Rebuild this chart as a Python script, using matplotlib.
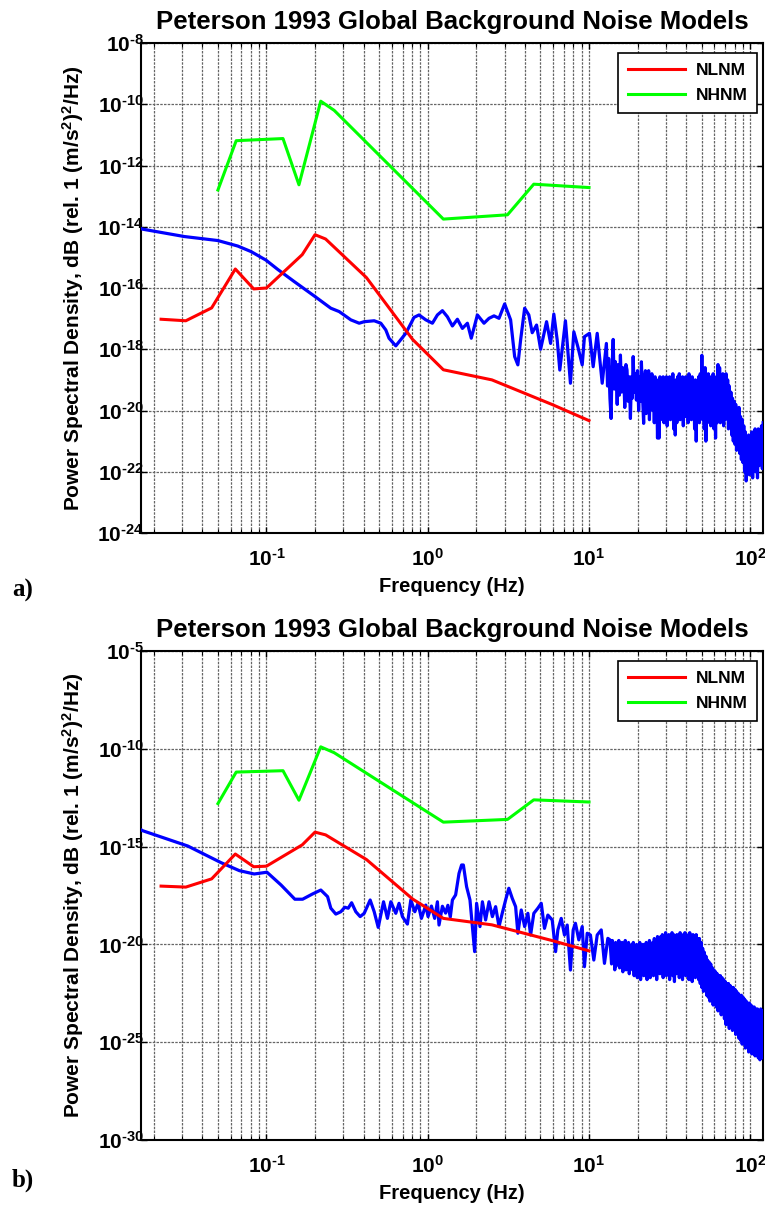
import numpy as np
import matplotlib
matplotlib.use('Agg')
import matplotlib.pyplot as plt
from matplotlib.ticker import FixedLocator, NullLocator, NullFormatter, LogLocator

plt.rcParams['font.family'] = ['Liberation Sans', 'DejaVu Sans']
plt.rcParams['font.weight'] = 'bold'
plt.rcParams['mathtext.fontset'] = 'custom'
plt.rcParams['mathtext.rm'] = 'Liberation Sans:bold'
plt.rcParams['mathtext.it'] = 'Liberation Sans:bold'
plt.rcParams['mathtext.bf'] = 'Liberation Sans:bold'
plt.rcParams['mathtext.default'] = 'rm'

# ---------------- data ----------------
title_text = 'Peterson 1993 Global Background Noise Models'
xlabel_text = 'Frequency (Hz)'
ylabel_text = r'Power Spectral Density, dB (rel. 1 (m/s$^2$)$^2$/Hz)'
panel_labels = ['a)', 'b)']

# Peterson New Low Noise Model (frequency Hz, log10 PSD)
nlnm_freq = [0.0222, 0.0316, 0.0457, 0.0641, 0.0833, 0.1, 0.1667, 0.2, 0.2326,
             0.4167, 0.806, 1.25, 2.5, 5.88, 10.0]
nlnm_log_psd = [-17.02, -17.07, -16.65, -15.38, -16.03, -16.00, -14.91, -14.26,
                -14.40, -15.66, -17.68, -18.67, -19.00, -19.80, -20.33]

# Peterson New High Noise Model
nhnm_freq = [0.05, 0.0649, 0.1266, 0.159, 0.217, 0.263, 1.25, 3.125, 4.545, 10.0]
nhnm_log_psd = [-12.80, -11.19, -11.12, -12.63, -9.90, -10.20, -13.75, -13.61,
                -12.61, -12.72]

# Measured PSD, panel a) (log10 frequency, log10 PSD)
psd_a_low_log_freq = [
    -1.778, -1.767, -1.509, -1.302, -1.178, -1.096, -1.003, -0.931, -0.828, -0.704,
    -0.601, -0.549, -0.477, -0.425, -0.394, -0.332, -0.291, -0.260, -0.240, -0.198,
    -0.136, -0.085, -0.054, -0.012, 0.029, 0.060, 0.091, 0.122, 0.153, 0.184,
    0.215, 0.246, 0.270, 0.308, 0.349, 0.380, 0.411, 0.442, 0.477, 0.514,
    0.539, 0.559, 0.576, 0.601, 0.627, 0.648, 0.675, 0.700, 0.737, 0.762,
    0.782, 0.803, 0.819, 0.854, 0.885, 0.906, 0.931, 0.958, 0.972, 1.003,
    1.026, 1.051, 1.082, 1.108, 1.115, 1.122, 1.130, 1.137, 1.143, 1.150,
    1.157, 1.163, 1.168, 1.175, 1.181, 1.188, 1.195, 1.202, 1.209, 1.216,
    1.222, 1.229, 1.236, 1.243, 1.250, 1.257, 1.263, 1.268, 1.274, 1.281,
    1.287, 1.294, 1.301, 1.308, 1.315, 1.320, 1.325, 1.332, 1.339, 1.344]
psd_a_low_log_psd = [
    -14.06, -14.08, -14.32, -14.45, -14.63, -14.81, -15.09, -15.39, -15.79, -16.26,
    -16.66, -16.77, -17.04, -17.15, -17.10, -17.07, -17.15, -17.37, -17.64, -17.89,
    -17.48, -16.96, -16.88, -17.04, -17.15, -16.88, -16.74, -16.94, -17.24, -17.02,
    -17.32, -17.15, -17.64, -16.88, -17.15, -16.99, -16.91, -16.99, -16.52, -17.04,
    -18.24, -18.51, -17.70, -16.66, -16.88, -17.46, -17.21, -18.00, -17.10, -17.81,
    -16.85, -17.70, -18.68, -17.07, -19.11, -17.43, -17.92, -18.51, -17.59, -17.48,
    -18.57, -17.48, -19.11, -17.81, -19.20, -18.30, -19.60, -20.26, -18.60, -17.68,
    -19.30, -18.40, -18.68, -19.80, -18.50, -19.50, -18.19, -19.40, -18.60, -18.95,
    -19.90, -18.50, -18.68, -19.70, -18.90, -20.26, -18.90, -19.60, -18.24, -19.40,
    -18.80, -19.66, -18.70, -20.00, -18.90, -19.70, -18.41, -19.50, -20.42, -19.00]
psd_a_band_log_freq = [
    1.350, 1.355, 1.360, 1.365, 1.370, 1.375, 1.380, 1.385, 1.390, 1.395,
    1.400, 1.405, 1.410, 1.415, 1.420, 1.425, 1.430, 1.435, 1.440, 1.445,
    1.450, 1.455, 1.460, 1.465, 1.470, 1.475, 1.480, 1.485, 1.490, 1.495,
    1.500, 1.505, 1.510, 1.515, 1.520, 1.525, 1.530, 1.535, 1.540, 1.545,
    1.550, 1.555, 1.560, 1.565, 1.570, 1.575, 1.580, 1.585, 1.590, 1.595,
    1.600, 1.605, 1.610, 1.615, 1.620, 1.625, 1.630, 1.635, 1.640, 1.645,
    1.650, 1.655, 1.660, 1.665, 1.670, 1.675, 1.680, 1.685, 1.690, 1.695,
    1.700, 1.705, 1.710, 1.715, 1.720, 1.725, 1.730, 1.735, 1.740, 1.745,
    1.750, 1.755, 1.760, 1.765, 1.770, 1.775, 1.780, 1.785, 1.790, 1.795,
    1.800, 1.805, 1.810, 1.815, 1.820, 1.825, 1.830, 1.835, 1.840, 1.845,
    1.850, 1.855, 1.860, 1.865, 1.870, 1.875, 1.880, 1.885, 1.890, 1.895,
    1.900, 1.905, 1.910, 1.915, 1.920, 1.925, 1.930, 1.935, 1.940, 1.945,
    1.950, 1.955, 1.960, 1.965, 1.970, 1.975, 1.980, 1.985, 1.990, 1.995,
    2.000, 2.005, 2.010, 2.015, 2.020, 2.025, 2.030, 2.035, 2.040, 2.045,
    2.050, 2.055, 2.060, 2.065, 2.070, 2.075, 2.080]
psd_a_band_log_psd = [
    -18.7, -20.1, -18.9, -19.9, -18.7, -20.3, -19.0, -19.8, -18.8, -20.0,
    -19.1, -20.4, -18.9, -20.2, -19.3, -20.9, -19.0, -20.9, -18.9, -20.3,
    -19.2, -20.0, -18.9, -20.4, -19.0, -20.2, -18.9, -20.5, -19.1, -20.1,
    -18.9, -20.3, -19.1, -19.9, -18.8, -20.6, -19.2, -20.8, -19.0, -20.4,
    -18.9, -20.1, -18.8, -20.3, -19.0, -19.9, -18.9, -20.5, -19.2, -20.2,
    -18.9, -20.0, -19.1, -20.4, -18.8, -20.2, -19.0, -20.3, -18.9, -20.1,
    -19.2, -20.6, -19.0, -21.0, -19.1, -20.2, -18.9, -20.4, -18.8, -20.0,
    -18.2, -20.3, -18.9, -20.6, -18.6, -21.0, -19.0, -20.4, -18.8, -20.1,
    -18.9, -20.5, -19.0, -20.3, -18.8, -20.6, -19.1, -20.9, -18.9, -20.4,
    -18.5, -20.0, -18.6, -20.4, -19.0, -20.2, -18.8, -20.5, -19.1, -20.3,
    -18.8, -20.2, -19.0, -20.6, -19.2, -20.4, -19.4, -20.8, -19.6, -21.0,
    -19.7, -21.1, -19.8, -21.3, -20.0, -20.9, -19.9, -21.4, -20.2, -21.6,
    -20.3, -21.7, -20.5, -22.0, -20.7, -22.3, -20.9, -21.8, -20.8, -22.1,
    -20.9, -21.9, -20.7, -22.2, -21.0, -21.6, -20.6, -22.0, -20.8, -22.2,
    -20.6, -21.8, -20.9, -21.6, -20.5, -21.9, -20.4]

# Measured PSD, panel b)
psd_b_low_log_freq = [
    -1.778, -1.767, -1.488, -1.282, -1.168, -1.076, -0.997, -0.910, -0.824, -0.776,
    -0.714, -0.663, -0.621, -0.601, -0.570, -0.539, -0.514, -0.493, -0.472, -0.446,
    -0.419, -0.394, -0.357, -0.332, -0.307, -0.274, -0.250, -0.229, -0.198, -0.178,
    -0.157, -0.126, -0.105, -0.080, -0.060, -0.039, -0.012, 0.002, 0.023, 0.043,
    0.060, 0.070, 0.091, 0.111, 0.125, 0.140, 0.153, 0.173, 0.194, 0.210,
    0.221, 0.241, 0.262, 0.277, 0.291, 0.303, 0.324, 0.339, 0.359, 0.380,
    0.401, 0.421, 0.442, 0.462, 0.483, 0.503, 0.524, 0.545, 0.559, 0.580,
    0.601, 0.621, 0.638, 0.658, 0.683, 0.704, 0.724, 0.745, 0.772, 0.793,
    0.807, 0.828, 0.848, 0.865, 0.885, 0.902, 0.916, 0.937, 0.958, 0.972,
    0.989, 1.009, 1.030, 1.051, 1.076, 1.096, 1.117, 1.130]
psd_b_low_log_psd = [
    -14.14, -14.19, -14.97, -15.82, -16.23, -16.40, -16.31, -16.96, -17.69, -17.69,
    -17.42, -17.22, -17.56, -18.15, -18.45, -18.33, -18.10, -18.15, -17.87, -18.33,
    -18.58, -18.41, -17.73, -18.33, -19.13, -17.82, -18.67, -17.82, -18.41, -17.90,
    -18.58, -18.96, -17.73, -18.33, -17.90, -18.67, -17.99, -18.58, -18.04, -18.67,
    -17.82, -19.01, -18.05, -18.40, -18.00, -18.60, -17.73, -17.47, -16.37, -15.94,
    -15.94, -17.05, -17.73, -19.09, -20.37, -17.90, -19.09, -17.82, -18.75, -17.82,
    -18.58, -18.07, -19.09, -18.41, -17.73, -17.13, -17.64, -18.07, -19.43, -18.24,
    -19.09, -18.41, -19.52, -18.41, -18.15, -17.90, -19.18, -18.50, -18.75, -20.37,
    -19.26, -18.67, -19.52, -19.01, -21.31, -19.26, -18.92, -19.77, -19.09, -21.14,
    -19.43, -19.52, -20.80, -19.52, -19.26, -20.97, -19.69, -19.77]
psd_b_band_log_freq = [
    1.140, 1.145, 1.150, 1.155, 1.160, 1.165, 1.170, 1.175, 1.180, 1.185,
    1.190, 1.195, 1.200, 1.205, 1.210, 1.215, 1.220, 1.225, 1.230, 1.235,
    1.240, 1.245, 1.250, 1.255, 1.260, 1.265, 1.270, 1.275, 1.280, 1.285,
    1.290, 1.295, 1.300, 1.305, 1.310, 1.315, 1.320, 1.325, 1.330, 1.335,
    1.340, 1.345, 1.350, 1.355, 1.360, 1.365, 1.370, 1.375, 1.380, 1.385,
    1.390, 1.395, 1.400, 1.405, 1.410, 1.415, 1.420, 1.425, 1.430, 1.435,
    1.440, 1.445, 1.450, 1.455, 1.460, 1.465, 1.470, 1.475, 1.480, 1.485,
    1.490, 1.495, 1.500, 1.505, 1.510, 1.515, 1.520, 1.525, 1.530, 1.535,
    1.540, 1.545, 1.550, 1.555, 1.560, 1.565, 1.570, 1.575, 1.580, 1.585,
    1.590, 1.595, 1.600, 1.605, 1.610, 1.615, 1.620, 1.625, 1.630, 1.635,
    1.640, 1.645, 1.650, 1.655, 1.660, 1.665, 1.670, 1.675, 1.680, 1.685,
    1.690, 1.695, 1.700, 1.705, 1.710, 1.715, 1.720, 1.725, 1.730, 1.735,
    1.740, 1.745, 1.750, 1.755, 1.760, 1.765, 1.770, 1.775, 1.780, 1.785,
    1.790, 1.795, 1.800, 1.805, 1.810, 1.815, 1.820, 1.825, 1.830, 1.835,
    1.840, 1.845, 1.850, 1.855, 1.860, 1.865, 1.870, 1.875, 1.880, 1.885,
    1.890, 1.895, 1.900, 1.905, 1.910, 1.915, 1.920, 1.925, 1.930, 1.935,
    1.940, 1.945, 1.950, 1.955, 1.960, 1.965, 1.970, 1.975, 1.980, 1.985,
    1.990, 1.995, 2.000, 2.005, 2.010, 2.015, 2.020, 2.025, 2.030, 2.035,
    2.040, 2.045, 2.050, 2.055, 2.060, 2.065, 2.070, 2.075, 2.080]
psd_b_band_log_psd = [
    -21.0, -19.8, -20.9, -20.0, -21.3, -19.9, -21.1, -20.1, -20.8, -19.8,
    -21.2, -20.0, -21.0, -19.9, -21.4, -20.1, -20.9, -19.8, -21.3, -20.0,
    -21.1, -19.9, -21.5, -20.2, -21.0, -20.0, -21.3, -19.9, -21.6, -20.1,
    -21.2, -20.0, -21.7, -20.2, -21.4, -19.9, -21.8, -20.1, -21.3, -20.0,
    -21.6, -20.2, -21.4, -19.9, -21.8, -20.0, -21.5, -19.8, -21.7, -20.1,
    -21.3, -19.9, -21.6, -19.7, -21.4, -19.8, -21.8, -19.6, -21.2, -19.8,
    -21.5, -19.6, -21.3, -19.5, -21.7, -19.6, -21.2, -19.4, -21.6, -19.7,
    -21.4, -19.5, -21.8, -19.6, -21.3, -19.4, -21.6, -19.5, -21.9, -19.7,
    -21.5, -19.5, -21.2, -19.6, -21.7, -19.4, -21.3, -19.5, -21.8, -19.6,
    -21.4, -19.4, -21.6, -19.5, -21.2, -19.6, -21.8, -19.4, -21.5, -19.6,
    -21.9, -19.5, -21.4, -19.6, -21.7, -19.5, -21.3, -19.7, -21.8, -19.7,
    -22.0, -19.9, -22.2, -20.2, -22.4, -20.4, -22.3, -20.6, -22.6, -20.8,
    -22.7, -20.9, -22.9, -21.0, -22.6, -21.2, -23.1, -21.3, -22.9, -21.4,
    -23.2, -21.5, -23.4, -21.6, -23.1, -21.6, -23.6, -21.7, -23.4, -21.8,
    -23.8, -21.9, -24.1, -22.0, -23.7, -22.0, -24.3, -22.1, -24.0, -22.2,
    -24.4, -22.2, -24.2, -22.3, -24.6, -22.4, -24.5, -22.5, -24.8, -22.6,
    -24.9, -22.6, -25.1, -22.7, -24.9, -22.8, -25.3, -22.9, -25.2, -23.0,
    -25.5, -23.0, -25.3, -23.1, -25.6, -23.2, -25.4, -23.2, -25.7, -23.3,
    -25.6, -23.3, -25.8, -23.4, -25.9, -23.3, -25.7, -23.4, -25.8]

x_tick_values = [0.1, 1.0, 10.0, 100.0]
x_tick_labels = ['$10^{\u20101}$', '$10^{0}$', '$10^{1}$', '$10^{2}$']
y_ticks_a = [1e-24, 1e-22, 1e-20, 1e-18, 1e-16, 1e-14, 1e-12, 1e-10, 1e-8]
y_labels_a = ['$10^{\u201024}$', '$10^{\u201022}$', '$10^{\u201020}$', '$10^{\u201018}$',
              '$10^{\u201016}$', '$10^{\u201014}$', '$10^{\u201012}$', '$10^{\u201010}$',
              '$10^{\u20108}$']
y_ticks_b = [1e-30, 1e-25, 1e-20, 1e-15, 1e-10, 1e-5]
y_labels_b = ['$10^{\u201030}$', '$10^{\u201025}$', '$10^{\u201020}$', '$10^{\u201015}$',
              '$10^{\u201010}$', '$10^{\u20105}$']
x_limits = (1 / 60, 120)
y_limits_a = (1e-24, 1e-8)
y_limits_b = (1e-30, 1e-5)

# ---------------- figure ----------------
W, H = 765, 1209
fig = plt.figure(figsize=(W / 100, H / 100), dpi=100)

def px_axes(left, top, right, bottom):
    return fig.add_axes([left / W, 1 - bottom / H, (right - left) / W, (bottom - top) / H])

def draw_panel(ax, lf, lp, yticks, ylabels, ylim):
    ax.set_xscale('log')
    ax.set_yscale('log')
    ax.plot(10 ** np.asarray(lf), 10 ** np.asarray(lp), color=(0, 0, 1), lw=2.3,
            zorder=3, solid_joinstyle='round')
    ax.plot(nlnm_freq, 10 ** np.asarray(nlnm_log_psd), color=(1, 0, 0), lw=2.2,
            label='NLNM', zorder=4)
    ax.plot(nhnm_freq, 10 ** np.asarray(nhnm_log_psd), color=(0, 1, 0), lw=2.2,
            label='NHNM', zorder=4)
    ax.set_xlim(*x_limits)
    ax.set_ylim(*ylim)
    ax.xaxis.set_major_locator(FixedLocator(x_tick_values))
    ax.set_xticklabels(x_tick_labels)
    ax.xaxis.set_minor_locator(LogLocator(base=10, subs=np.arange(2, 10), numticks=20))
    ax.xaxis.set_minor_formatter(NullFormatter())
    ax.yaxis.set_major_locator(FixedLocator(yticks))
    ax.set_yticklabels(ylabels)
    ax.yaxis.set_minor_locator(NullLocator())
    ax.tick_params(which='both', direction='in', top=True, right=True)
    ax.tick_params(which='major', length=4, width=1.0, labelsize=15)
    ax.tick_params(which='minor', length=3, width=0.8)
    ax.tick_params(axis='x', which='major', pad=11)
    ax.tick_params(axis='y', which='major', pad=-2)
    ax.grid(True, which='major', axis='both', color='0.4', linestyle=(0, (2, 1)), lw=0.9)
    ax.grid(True, which='minor', axis='x', color='0.4', linestyle=(0, (2, 1)), lw=0.9)
    for s in ax.spines.values():
        s.set_linewidth(1.5)
        s.set_color('black')
    ax.set_title(title_text, fontsize=18.5, fontweight='bold', pad=10)
    ax.set_xlabel(xlabel_text, fontsize=14.5, fontweight='bold', labelpad=5)
    ax.set_ylabel(ylabel_text, fontsize=15, fontweight='bold')
    ax.yaxis.set_label_coords((86 - 141) / 622, 0.5)
    leg = ax.legend(loc='upper right', bbox_to_anchor=(0.9904, 0.9796),
                    borderaxespad=0, fancybox=False, framealpha=1, edgecolor='black',
                    prop={'size': 12.5, 'weight': 'bold'}, handlelength=3.3,
                    handletextpad=0.6, borderpad=0.55, labelspacing=0.6)
    leg.get_frame().set_linewidth(1.2)

ax_a = px_axes(141, 43, 763, 533)
draw_panel(ax_a, psd_a_low_log_freq + psd_a_band_log_freq,
           psd_a_low_log_psd + psd_a_band_log_psd, y_ticks_a, y_labels_a, y_limits_a)
ax_b = px_axes(141, 651, 763, 1140)
draw_panel(ax_b, psd_b_low_log_freq + psd_b_band_log_freq,
           psd_b_low_log_psd + psd_b_band_log_psd, y_ticks_b, y_labels_b, y_limits_b)

fig.text(12 / W, 1 - 590 / H, panel_labels[0], family='Liberation Serif',
         fontweight='bold', fontsize=18, va='center', ha='left')
fig.text(12 / W, 1 - 1180 / H, panel_labels[1], family='Liberation Serif',
         fontweight='bold', fontsize=18, va='center', ha='left')

fig.savefig('out.png', dpi=100)
